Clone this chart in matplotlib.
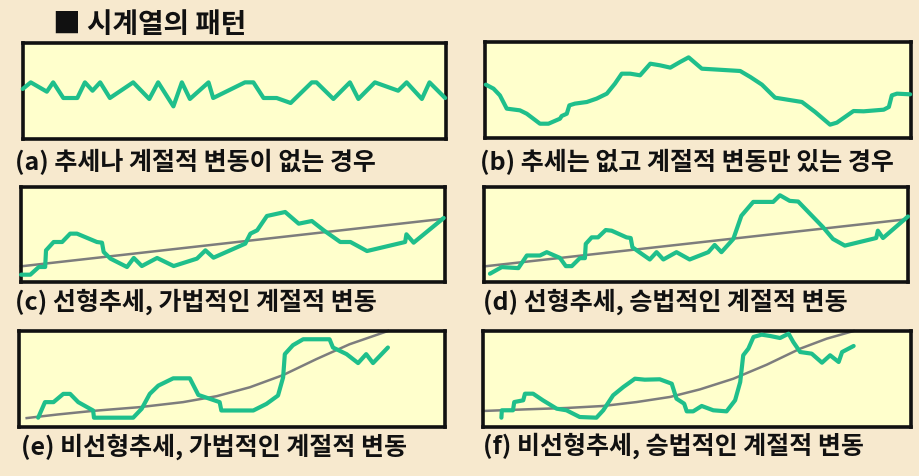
#%%
import numpy as np
import matplotlib.pyplot as plt

plt.rcParams['font.family'] = ['Noto Sans CJK KR', 'DejaVu Sans']

#%% 데이터 (각 패널 안에서 0~100 단위)
titulo = '■ 시계열의 패턴'

leyendas = ['(a) 추세나 계절적 변동이 없는 경우',
            '(b) 추세는 없고 계절적 변동만 있는 경우',
            '(c) 선형추세, 가법적인 계절적 변동',
            '(d) 선형추세, 승법적인 계절적 변동',
            '(e) 비선형추세, 가법적인 계절적 변동',
            '(f) 비선형추세, 승법적인 계절적 변동']

a_x = [0, 1.9, 5.7, 7.2, 9.6, 12.9, 14.7, 16.5, 18.3, 20.6, 26.1, 29.9, 32.0,
       35.6, 37.6, 39.5, 43.9, 45.0, 52.5, 54.5, 56.9, 60.0, 63.3, 68.3, 69.4,
       73.4, 77.3, 79.3, 83.2, 88.7, 90.7, 94.3, 96.1, 99.8]
a_y = [52.1, 59.0, 49.3, 59.0, 42.7, 42.7, 59.0, 50.3, 59.0, 42.7, 59.0, 41.7,
       59.0, 34.0, 59.0, 41.7, 59.0, 42.7, 59.0, 59.0, 42.7, 42.7, 37.5, 59.0,
       59.0, 41.7, 59.0, 41.7, 59.0, 50.3, 59.0, 41.7, 59.0, 42.7]

b_x = [0.2, 2.0, 3.5, 5.1, 8.2, 9.8, 12.9, 14.9, 17.6, 18.0, 19.2, 19.8, 21.1,
       23.9, 26.2, 28.6, 30.5, 32.1, 34.1, 36.4, 38.8, 41.1, 43.5, 45.8, 47.8,
       50.9, 53.6, 59.9, 62.3, 65.0, 68.1, 74.4, 77.5, 81.0, 82.6, 86.5, 88.9,
       93.6, 94.8, 95.5, 96.7, 99.8]
b_y = [55.6, 51.4, 44.4, 30.6, 28.8, 25.3, 14.9, 14.9, 20.1, 22.9, 25.3, 34.0,
       35.8, 37.5, 41.0, 46.2, 56.6, 67.0, 67.0, 65.3, 77.4, 75.7, 73.3, 79.2,
       84.0, 72.2, 71.5, 69.8, 63.5, 55.6, 42.0, 37.5, 27.1, 13.9, 16.0, 28.1,
       27.8, 29.5, 32.3, 44.4, 46.2, 45.5]

c_x = [0, 2.2, 4.2, 5.7, 5.9, 7.7, 9.7, 11.6, 13.2, 17.9, 19.1, 19.5, 21.1,
       25.0, 26.6, 28.5, 32.1, 36.0, 41.5, 43.5, 45.4, 52.9, 54.1, 55.7, 58.0,
       62.3, 65.5, 68.6, 71.4, 75.3, 77.7, 81.6, 90.6, 90.9, 92.6, 99.7]
c_y = [7.7, 7.7, 15.8, 15.8, 33.3, 42.1, 42.1, 50.9, 50.9, 42.1, 41.4, 31.6,
       24.6, 15.8, 25.3, 16.8, 25.3, 16.8, 24.6, 33.3, 25.6, 40.4, 50.9, 54.4,
       69.5, 73.7, 61.4, 64.2, 54.4, 42.1, 42.1, 32.6, 42.1, 50.2, 41.4, 67.4]
c_tx = [0, 100]
c_ty = [16.5, 66.7]

d_x = [1.4, 4.2, 8.1, 10.1, 13.2, 14.8, 17.9, 19.3, 20.7, 22.6, 23.8, 24.0,
       25.4, 26.9, 28.7, 30.1, 33.6, 34.6, 35.0, 37.2, 39.1, 40.7, 42.3, 45.4,
       48.5, 52.9, 54.4, 56.0, 58.8, 60.7, 63.5, 68.2, 69.8, 72.1, 74.1, 80.0,
       82.3, 85.1, 92.5, 92.9, 94.1, 100]
d_y = [8.7, 15.7, 14.6, 27.9, 27.9, 31.4, 25.4, 16.7, 16.7, 25.1, 25.1, 40.1,
       47.0, 47.0, 54.7, 54.0, 47.0, 46.3, 36.6, 29.6, 23.7, 31.4, 23.7, 31.4,
       23.7, 31.4, 39.0, 31.4, 45.3, 69.7, 84.3, 84.3, 91.3, 85.4, 84.7, 57.5,
       45.3, 38.3, 46.3, 54.0, 46.3, 69.0]
d_tx = [0, 100]
d_ty = [16.4, 66.2]

e_x = [4.5, 6.1, 8.1, 10.4, 12.0, 13.9, 17.4, 17.6, 26.8, 28.8, 30.7, 32.7,
       36.2, 40.1, 42.1, 47.1, 47.5, 55.0, 58.1, 60.8, 62.0, 62.4, 64.3, 66.7,
       72.9, 73.7, 76.9, 79.6, 81.5, 83.1, 86.6]
e_y = [9.7, 25.9, 25.9, 34.5, 34.5, 25.9, 17.2, 9.7, 9.7, 19.0, 34.5, 43.1,
       50.7, 50.7, 33.4, 25.9, 17.2, 17.2, 24.1, 32.8, 51.7, 75.9, 85.2, 91.4,
       91.4, 82.8, 75.9, 66.6, 75.9, 66.6, 82.8]
e_tx = [1.8, 9.0, 17.4, 28.4, 38.5, 46.4, 54.2, 62.0, 69.8, 77.6, 86.6]
e_ty = [9.3, 13.0, 16.8, 20.7, 25.9, 32.1, 41.4, 54.1, 70.7, 86.2, 100.0]

f_x = [4.3, 4.4, 7.0, 7.3, 9.4, 9.8, 11.7, 14.0, 17.2, 19.5, 22.6, 26.5, 28.1,
       30.4, 32.8, 35.5, 37.8, 41.3, 44.1, 45.2, 47.0, 47.6, 49.1, 51.1, 53.8,
       56.9, 58.9, 60.1, 60.8, 62.0, 63.2, 65.1, 67.1, 69.4, 71.4, 72.5, 74.1,
       76.8, 79.2, 81.1, 83.1, 83.9, 86.6]
f_y = [9.7, 17.4, 17.4, 26.0, 27.8, 34.7, 34.7, 27.8, 19.1, 17.4, 10.4, 9.7,
       17.4, 33.0, 41.7, 50.3, 49.3, 49.7, 45.1, 29.5, 24.3, 16.3, 16.3, 21.9,
       17.4, 16.3, 27.8, 46.9, 74.7, 81.6, 93.8, 96.2, 94.8, 92.7, 97.2, 88.5,
       78.1, 76.4, 67.0, 74.7, 67.7, 78.1, 84.4]
f_tx = [0, 10.1, 19.5, 28.1, 35.9, 43.7, 50.7, 58.5, 66.3, 74.1, 80.3, 86.6]
f_ty = [16.7, 18.4, 19.8, 21.9, 26.0, 31.3, 39.2, 50.3, 64.9, 81.6, 92.0, 100.0]

#%% 그림
fondo = '#f7e9ce'
verde = '#1fbf8b'
gris = '#7d7d7d'

fig = plt.figure(figsize=(9.19, 4.77), dpi=100, facecolor=fondo)

# 패널 위치 [left, bottom, width, height] (픽셀에서 계산)
W, H = 919, 477
cajas = [(22.7, 44, 446, 140), (485, 43, 911, 139),
         (21, 188, 445, 283), (484, 188, 908, 283),
         (19, 332, 445, 428), (483, 332, 911, 428)]

series = [(a_x, a_y, None, None), (b_x, b_y, None, None),
          (c_x, c_y, c_tx, c_ty), (d_x, d_y, d_tx, d_ty),
          (e_x, e_y, e_tx, e_ty), (f_x, f_y, f_tx, f_ty)]

for (x0, y0, x1, y1), (sx, sy, tx, ty) in zip(cajas, series):
    ax = fig.add_axes([x0 / W, 1 - y1 / H, (x1 - x0) / W, (y1 - y0) / H])
    ax.set_facecolor('#ffffcc')
    ax.set_xlim(0, 100)
    ax.set_ylim(0, 100)
    ax.set_xticks([])
    ax.set_yticks([])
    for s in ax.spines.values():
        s.set_linewidth(2.6)
        s.set_color('#111111')
    if tx is not None:
        ax.plot(tx, ty, color=gris, lw=1.8, clip_on=False, zorder=2)
    ax.plot(sx, sy, color=verde, lw=3.0, clip_on=False, zorder=3,
            solid_joinstyle='round', solid_capstyle='round')

# 제목
fig.text(53 / W, 1 - 25 / H, titulo, fontsize=20, fontweight='bold',
         va='center', ha='left', color='#111111')

# 패널 설명
pos_ley = [(15, 162), (480, 162), (15, 302), (483, 302), (21, 447), (483, 446)]
for (px, py), txt in zip(pos_ley, leyendas):
    fig.text(px / W, 1 - py / H, txt, fontsize=18, fontweight='bold',
             va='center', ha='left', color='#111111')

fig.savefig('out.png', dpi=100, facecolor=fondo)
